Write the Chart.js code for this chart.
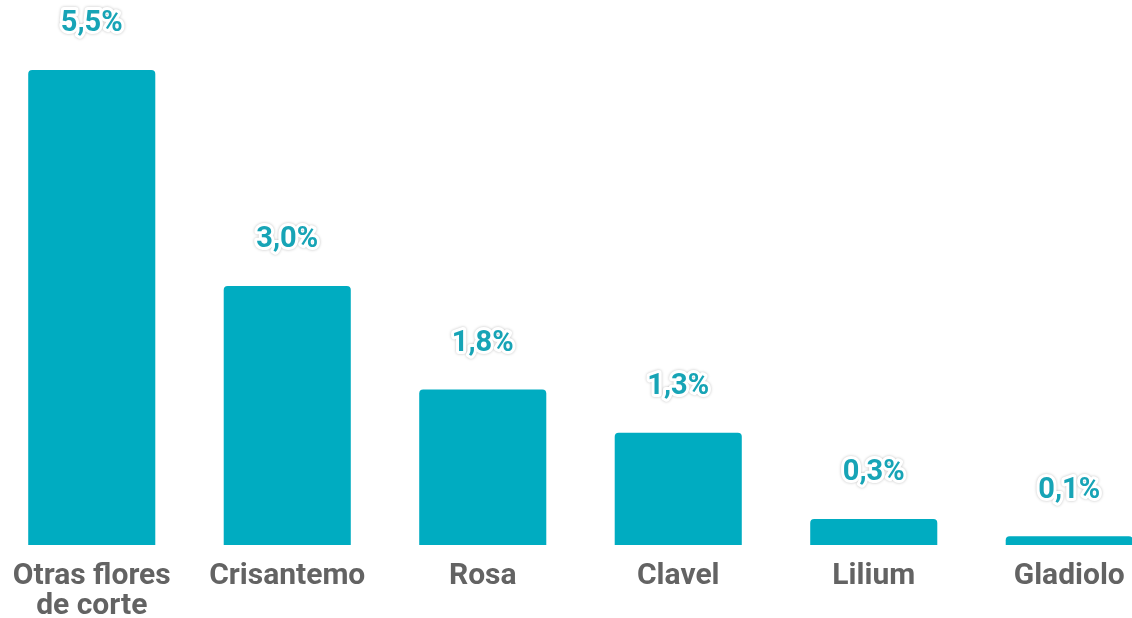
<!DOCTYPE html>
<html>
<head>
<meta charset="utf-8">
<script src="https://cdn.jsdelivr.net/npm/chart.js@4/dist/chart.umd.min.js"></script>
<style>
  html, body { margin: 0; padding: 0; background: #fff; overflow: hidden; }
  #wrap { position: absolute; left: -6px; top: 0; width: 1173px; height: 618px; }
</style>
</head>
<body>
<div id="wrap"><canvas id="chart"></canvas></div>
<script>
const categories = [['Otras flores', 'de corte'], 'Crisantemo', 'Rosa', 'Clavel', 'Lilium', 'Gladiolo'];
const shares = [5.5, 3.0, 1.8, 1.3, 0.3, 0.1];
const shareLabels = ['5,5%', '3,0%', '1,8%', '1,3%', '0,3%', '0,1%'];

// value labels above each bar, white halo like the original
const valueLabels = {
  id: 'valueLabels',
  afterDatasetsDraw(chart) {
    const ctx = chart.ctx;
    const meta = chart.getDatasetMeta(0);
    ctx.save();
    ctx.font = 'bold 29px Roboto';
    ctx.textAlign = 'center';
    ctx.textBaseline = 'middle';
    ctx.lineJoin = 'round';
    meta.data.forEach((bar, i) => {
      const y = bar.y - 46;
      ctx.shadowColor = 'rgba(0,0,0,0.25)';
      ctx.shadowBlur = 3;
      ctx.strokeStyle = '#fff';
      ctx.lineWidth = 6;
      ctx.strokeText(shareLabels[i], bar.x, y);
      ctx.shadowColor = 'transparent';
      ctx.fillStyle = '#17a4b6';
      ctx.fillText(shareLabels[i], bar.x, y);
    });
    ctx.restore();
  }
};

new Chart(document.getElementById('chart'), {
  type: 'bar',
  data: {
    labels: categories,
    datasets: [{
      data: shares,
      backgroundColor: '#00acc1',
      borderRadius: { topLeft: 4, topRight: 4 },
      borderSkipped: 'bottom',
      categoryPercentage: 1,
      barPercentage: 0.65
    }]
  },
  options: {
    responsive: true,
    maintainAspectRatio: false,
    animation: false,
    layout: { padding: 0 },
    plugins: { legend: { display: false }, tooltip: { enabled: false } },
    scales: {
      x: {
        grid: { display: false },
        border: { display: false },
        afterFit(scale) { scale.height = 73; },
        ticks: {
          color: '#636363',
          font: { family: 'Roboto', size: 30, weight: 'bold', lineHeight: 1.0 },
          padding: 8,
          maxRotation: 0,
          autoSkip: false
        }
      },
      y: {
        display: false,
        min: 0,
        max: 6.31
      }
    }
  },
  plugins: [valueLabels]
});
</script>
</body>
</html>
